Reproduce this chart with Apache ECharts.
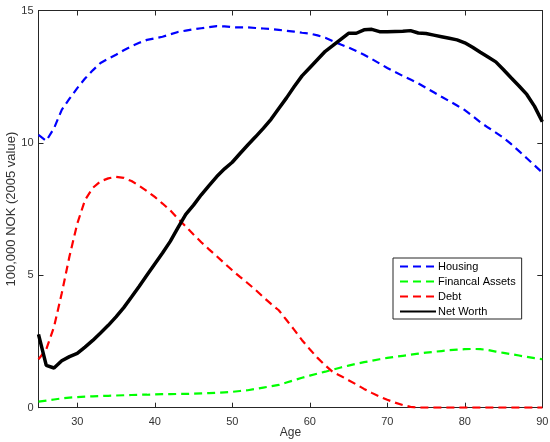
<!DOCTYPE html>
<html>
<head>
<meta charset="utf-8">
<script src="https://cdn.jsdelivr.net/npm/echarts@6/dist/echarts.min.js"></script>
<style>
html,body{margin:0;padding:0;background:#fff;}
#chart{width:550px;height:442px;}
</style>
</head>
<body>
<div id="chart"></div>
<script>
var ages = [];
for (var a = 25; a <= 90; a++) ages.push(a);

var housing = [10.30,10.08,10.55,11.25,11.67,12.07,12.43,12.74,13.02,13.18,
  13.33,13.50,13.65,13.78,13.89,13.95,14.01,14.10,14.19,14.24,
  14.29,14.33,14.37,14.41,14.40,14.37,14.36,14.36,14.34,14.32,
  14.30,14.27,14.23,14.20,14.16,14.13,14.06,13.97,13.84,13.72,
  13.60,13.47,13.33,13.17,13.00,12.83,12.68,12.53,12.39,12.25,
  12.08,11.91,11.74,11.58,11.41,11.24,11.02,10.78,10.58,10.39,
  10.19,9.95,9.69,9.42,9.15,8.88];

var financial = [0.23,0.27,0.31,0.35,0.38,0.40,0.42,0.43,0.44,0.45,
  0.46,0.47,0.48,0.49,0.49,0.50,0.51,0.51,0.52,0.52,
  0.53,0.54,0.55,0.56,0.58,0.60,0.63,0.66,0.71,0.76,
  0.81,0.86,0.95,1.04,1.13,1.21,1.29,1.36,1.44,1.52,
  1.59,1.66,1.72,1.77,1.83,1.88,1.92,1.96,2.00,2.04,
  2.08,2.11,2.14,2.17,2.19,2.21,2.22,2.21,2.18,2.12,
  2.07,2.02,1.97,1.92,1.87,1.83];

var debt = [1.83,2.20,3.05,4.32,5.72,6.95,7.84,8.30,8.55,8.66,
  8.72,8.68,8.56,8.38,8.18,7.96,7.71,7.45,7.14,6.84,
  6.54,6.25,5.98,5.72,5.45,5.19,4.94,4.70,4.45,4.18,
  3.92,3.68,3.31,2.94,2.55,2.21,1.88,1.60,1.34,1.20,
  1.04,0.88,0.71,0.56,0.42,0.30,0.19,0.10,0.03,0.00,
  0,0,0,0,0,0,0,0,0,0,
  0,0,0,0,0,0];

var netWorth = [2.77,1.60,1.50,1.77,1.93,2.05,2.29,2.54,2.82,3.11,
  3.43,3.78,4.18,4.59,5.01,5.43,5.84,6.28,6.80,7.30,
  7.65,8.04,8.39,8.73,9.02,9.27,9.60,9.92,10.23,10.55,
  10.89,11.30,11.70,12.13,12.53,12.84,13.15,13.46,13.68,13.91,
  14.14,14.14,14.27,14.29,14.20,14.20,14.21,14.22,14.24,14.15,
  14.13,14.07,14.01,13.95,13.89,13.78,13.61,13.42,13.24,13.06,
  12.76,12.45,12.15,11.83,11.38,10.80];

var xTicks = [30,40,50,60,70,80,90];
var yTicks = [0,5,10,15];
var seriesNames = ['Housing','Financal Assets','Debt','Net Worth'];

function pairs(vals){ return ages.map(function(a,i){ return [a, vals[i]]; }); }

var txt = '#333333';
var font = 'Liberation Sans, Arial, Helvetica, sans-serif';
var axisLine = {show:true, onZero:false, lineStyle:{color:'#262626', width:1}};

var chart = echarts.init(document.getElementById('chart'), null, {renderer:'canvas'});
chart.setOption({
  animation:false,
  backgroundColor:'#ffffff',
  grid:{left:38.5, right:7.7, top:10.5, bottom:34.3, containLabel:false, outerBoundsMode:'none'},
  legend:{
    orient:'vertical',
    left:393, top:258,
    width:130,
    backgroundColor:'#ffffff',
    borderColor:'#262626', borderWidth:1, borderRadius:0,
    padding:[3,6,2,6],
    itemWidth:36, itemHeight:12, itemGap:4,
    itemStyle:{opacity:0},
    textStyle:{fontSize:11, color:'#000', fontFamily:font, padding:[0,0,0,-3]},
    data:seriesNames
  },
  xAxis:[{
    type:'value', min:25, max:90,
    name:'Age', nameLocation:'middle', nameGap:19, nameMoveOverlap:false,
    nameTextStyle:{fontSize:12, color:txt, fontFamily:font},
    axisLine:axisLine,
    axisTick:{show:true, inside:true, length:5, customValues:xTicks, lineStyle:{color:'#262626'}},
    axisLabel:{customValues:xTicks, fontSize:11, color:txt, fontFamily:font, margin:9},
    splitLine:{show:false}
  },{
    type:'value', min:25, max:90, position:'top',
    axisLine:axisLine,
    axisTick:{show:true, inside:true, length:5, customValues:xTicks, lineStyle:{color:'#262626'}},
    axisLabel:{show:false},
    splitLine:{show:false}
  }],
  yAxis:[{
    type:'value', min:0, max:15, interval:5,
    name:'100,000 NOK (2005 value)', nameLocation:'middle', nameGap:21, nameMoveOverlap:false,
    nameTextStyle:{fontSize:13, color:txt, fontFamily:font},
    axisLine:axisLine,
    axisTick:{show:true, inside:true, length:5, lineStyle:{color:'#262626'}},
    axisLabel:{fontSize:11, color:txt, fontFamily:font, margin:5},
    splitLine:{show:false}
  },{
    type:'value', min:0, max:15, interval:5, position:'right',
    axisLine:axisLine,
    axisTick:{show:true, inside:true, length:5, lineStyle:{color:'#262626'}},
    axisLabel:{show:false},
    splitLine:{show:false}
  }],
  series:[
    {name:seriesNames[0], type:'line', data:pairs(housing), symbol:'none', smooth:false,
     lineStyle:{color:'#0000ff', width:2.2, type:[8,5]}, itemStyle:{color:'#0000ff'}},
    {name:seriesNames[1], type:'line', data:pairs(financial), symbol:'none',
     lineStyle:{color:'#00ff00', width:2.2, type:[8,5]}, itemStyle:{color:'#00ff00'}},
    {name:seriesNames[2], type:'line', data:pairs(debt), symbol:'none',
     lineStyle:{color:'#ff0000', width:2.2, type:[8,5]}, itemStyle:{color:'#ff0000'}},
    {name:seriesNames[3], type:'line', data:pairs(netWorth), symbol:'none',
     lineStyle:{color:'#000000', width:3.5, type:'solid'}, itemStyle:{color:'#000000'}}
  ]
});
</script>
</body>
</html>
